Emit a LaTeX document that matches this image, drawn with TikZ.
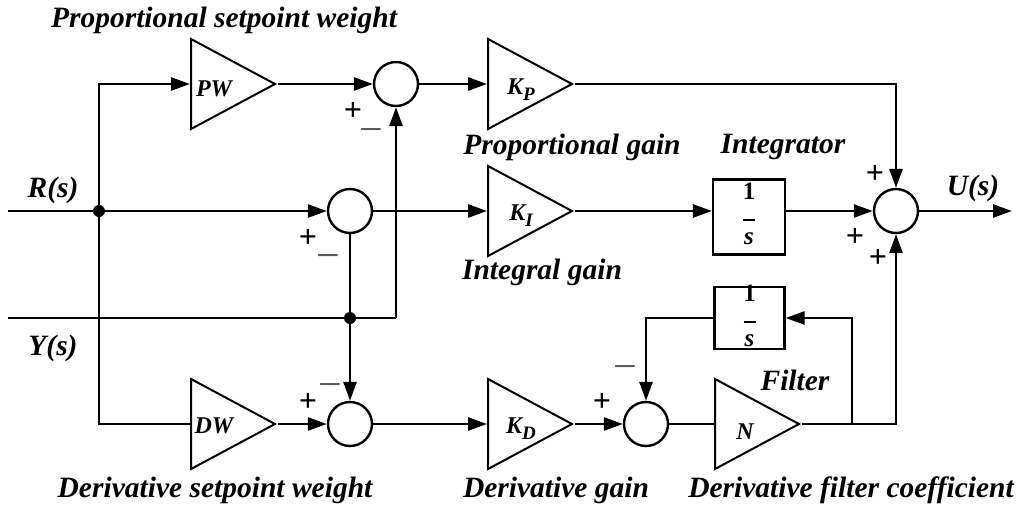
\documentclass[tikz,border=0pt]{standalone}
\usepackage{fontspec}
\setmainfont{Liberation Serif}
\usetikzlibrary{arrows.meta,shapes.geometric}

\begin{document}
\begin{tikzpicture}[x=1pt,y=-1pt,
  wire/.style={line width=2.6pt},
  sig/.style={wire,-{Triangle[length=19pt,width=13pt]}},
  gain/.style={draw,line width=2pt,isosceles triangle,isosceles triangle stretches,
               minimum width=90pt,minimum height=84pt,inner sep=0pt,anchor=lower side},
  sumj/.style={draw,circle,line width=2.4pt,minimum size=44pt,inner sep=0pt},
  tfbox/.style={draw,rectangle,line width=2.2pt,inner sep=0pt},
  dot/.style={circle,fill,minimum size=12pt,inner sep=0pt},
  lbl/.style={font=\fontsize{29.5}{30}\selectfont\bfseries\itshape,inner sep=0pt},
  glbl/.style={font=\fontsize{24}{24}\selectfont\bfseries\itshape,inner sep=0pt},
  plus/.style={font=\fontsize{32}{32}\selectfont\bfseries,inner sep=0pt},
  minus/.style={font=\fontsize{42}{42}\selectfont,text=black!65,inner sep=0pt},
  frac/.style={font=\fontsize{25}{25}\selectfont,align=center,inner sep=0pt}
]
\useasboundingbox (0,0) rectangle (1022,509);

% gain blocks
\node[gain] (pw) at (190,84) {};
\node[gain] (kp) at (487,84) {};
\node[gain] (ki) at (487,211) {};
\node[gain] (dw) at (190,424) {};
\node[gain] (kd) at (487,424) {};
\node[gain] (nf) at (714,424) {};

% summing junctions
\node[sumj] (s1) at (396,84) {};
\node[sumj] (s2) at (350,211) {};
\node[sumj] (s3) at (350,424) {};
\node[sumj] (s4) at (646,424) {};
\node[sumj] (s5) at (896,211) {};

% integrators
\node[tfbox,minimum width=72pt,minimum height=75pt] (integ) at (749,217) {};
\node[tfbox,minimum width=70pt,minimum height=62pt] (filt) at (749.5,318) {};
\node[frac] (integf) at (749,214) {\textbf{1}\\[-4pt]\rule{12pt}{1.6pt}\\[-1pt]\textbf{\textit{s}}};
\node[frac] (filtf) at (749.5,316) {\textbf{1}\\[-4pt]\rule{12pt}{1.6pt}\\[-1pt]\textbf{\textit{s}}};

% signal ends and branch points
\coordinate (rin) at (8,211);
\coordinate (yin) at (8,318);
\coordinate (uout) at (1012,211);
\coordinate (ytop) at (396,318);
\coordinate (ntap) at (852,424);
\node[dot] (j1) at (99,211) {};
\node[dot] (j2) at (350,318) {};

% reference path
\draw[wire] (rin) -- (j1);
\draw[sig] (j1) -- (s2);
\draw[sig] (j1) |- (pw.lower side);
\draw[wire] (j1) |- (dw.lower side);

% proportional path
\draw[sig] (pw.apex) -- (s1);
\draw[sig] (s1) -- (kp.lower side);
\draw[sig] (kp.apex) -| (s5);

% integral path
\draw[sig] (s2) -- (ki.lower side);
\draw[sig] (ki.apex) -- (ki.apex -| integ.west);
\draw[sig] (ki.apex -| integ.east) -- (s5);
\draw[sig] (s5) -- (uout);

% measurement path
\draw[wire] (yin) -- (ytop);
\draw[sig] (ytop) -- (s1);
\draw[wire] (j2) -- (s2);
\draw[sig] (j2) -- (s3);

% derivative path
\draw[sig] (dw.apex) -- (s3);
\draw[sig] (s3) -- (kd.lower side);
\draw[sig] (kd.apex) -- (s4);
\draw[wire] (s4) -- (nf.lower side);
\draw[sig] (nf.apex) -| (s5);
\draw[sig] (ntap) |- (filt.east);
\draw[sig] (filt.west) -| (s4);

% block labels
\node[glbl] (pwl) at (214,89) {PW};
\node[glbl] (dwl) at (214,426) {DW};
\node[glbl] (kpl) at (521,90) {K\raisebox{-6pt}{\fontsize{19}{19}\selectfont P}};
\node[glbl] (kil) at (521,216) {K\raisebox{-6pt}{\fontsize{19}{19}\selectfont I}};
\node[glbl] (kdl) at (521,429) {K\raisebox{-6pt}{\fontsize{19}{19}\selectfont D}};
\node[glbl] (nl) at (745,432) {N};

% signal names
\node[lbl] (rs) at (53,190) {R(s)};
\node[lbl] (ys) at (53,348) {Y(s)};
\node[lbl] (us) at (973,188) {U(s)};

% descriptions
\node[lbl] (t1) at (224,20) {Proportional setpoint weight};
\node[lbl] (t2) at (572,147) {Proportional gain};
\node[lbl] (t3) at (783,147) {Integrator};
\node[lbl] (t4) at (542,272) {Integral gain};
\node[lbl] (t5) at (795,380) {Filter};
\node[lbl] (t6) at (215,490) {Derivative setpoint weight};
\node[lbl] (t7) at (556,490) {Derivative gain};
\node[lbl] (t8) at (851,490) {Derivative filter coefficient};

% signs
\node[plus] (p1) at (353,111) {+};
\node[minus] (m1) at (371,136) {−};
\node[plus] (p2) at (308,238) {+};
\node[minus] (m2) at (328,262) {−};
\node[plus] (p3) at (308,402) {+};
\node[minus] (m3) at (330,391) {−};
\node[plus] (p4) at (602,402) {+};
\node[minus] (m4) at (625,373) {−};
\node[plus] (p5) at (875,174) {+};
\node[plus] (p6) at (855,237) {+};
\node[plus] (p7) at (878,258) {+};
\end{tikzpicture}
\end{document}
